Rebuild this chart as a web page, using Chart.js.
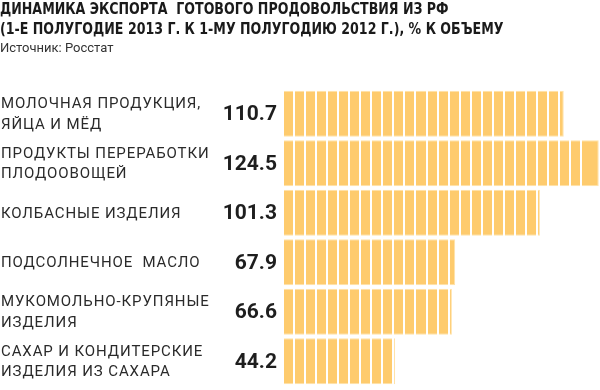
<!DOCTYPE html>
<html>
<head>
<meta charset="utf-8">
<script src="https://cdn.jsdelivr.net/npm/chart.js@4"></script>
<style>
html,body{margin:0;padding:0;background:#fff;}
#wrap{width:600px;height:390px;position:relative;}
</style>
</head>
<body>
<div id="wrap"><canvas id="c" width="600" height="390"></canvas></div>
<script>
const titleLines = ["ДИНАМИКА ЭКСПОРТА  ГОТОВОГО ПРОДОВОЛЬСТВИЯ ИЗ РФ", "(1-Е ПОЛУГОДИЕ 2013 Г. К 1-МУ ПОЛУГОДИЮ 2012 Г.), % К ОБЪЕМУ"];
const sourceText = "Источник: Росстат";
const categories = [
  ["МОЛОЧНАЯ ПРОДУКЦИЯ,", "ЯЙЦА И МЁД"],
  ["ПРОДУКТЫ ПЕРЕРАБОТКИ", "ПЛОДООВОЩЕЙ"],
  ["КОЛБАСНЫЕ ИЗДЕЛИЯ"],
  ["ПОДСОЛНЕЧНОЕ  МАСЛО"],
  ["МУКОМОЛЬНО-КРУПЯНЫЕ", "ИЗДЕЛИЯ"],
  ["САХАР И КОНДИТЕРСКИЕ", "ИЗДЕЛИЯ ИЗ САХАРА"]
];
const values = [110.7, 124.5, 101.3, 67.9, 66.6, 44.2];
const valueLabels = ["110.7", "124.5", "101.3", "67.9", "66.6", "44.2"];

const textPlugin = {
  id: 'textPlugin',
  afterDraw(chart) {
    const ctx = chart.ctx;
    const y = chart.scales.y;
    ctx.save();
    ctx.fillStyle = '#1a1a1a';
    ctx.textAlign = 'left';
    ctx.textBaseline = 'alphabetic';
    ctx.save();
    ctx.scale(0.905, 1);
    ctx.font = 'bold 15.5px "DejaVu Sans Condensed", "DejaVu Sans", sans-serif';
    ctx.fillText(titleLines[0], 0, 14);
    ctx.fillText(titleLines[1], 0, 34);
    ctx.restore();
    ctx.font = '13px Roboto, sans-serif';
    ctx.fillStyle = '#333';
    ctx.fillText(sourceText, 0, 52);
    categories.forEach((lines, i) => {
      const cy = y.getPixelForValue(i);
      const lh = 20.5;
      ctx.font = '15px Roboto, sans-serif';
      ctx.letterSpacing = '0.9px';
      ctx.fillStyle = '#2a2a2a';
      ctx.textAlign = 'left';
      ctx.textBaseline = 'middle';
      const start = cy - (lines.length - 1) * lh / 2;
      lines.forEach((ln, k) => ctx.fillText(ln, 1, start + k * lh + 1));
      ctx.letterSpacing = '0px';
      ctx.font = 'bold 21px Roboto, sans-serif';
      ctx.fillStyle = '#1e1e1e';
      ctx.textAlign = 'right';
      ctx.fillText(valueLabels[i], 277, cy + 1);
    });
    ctx.restore();
  }
};

new Chart(document.getElementById('c'), {
  type: 'bar',
  data: {
    labels: categories,
    datasets: [{
      data: values,
      backgroundColor: '#FECB6D',
      borderColor: '#FFE2A8',
      borderWidth: 1,
      barPercentage: 0.93,
      categoryPercentage: 1.0
    }]
  },
  options: {
    indexAxis: 'y',
    responsive: false,
    animation: false,
    events: [],
    layout: { padding: { top: 89, bottom: 4, left: 283, right: 0 } },
    plugins: { legend: { display: false }, tooltip: { enabled: false }, title: { display: false } },
    scales: {
      x: {
        min: 0,
        max: 125,
        ticks: { display: false, stepSize: 4.353 },
        grid: { color: '#ffffff', lineWidth: 2, drawTicks: false, z: 1 },
        border: { display: false }
      },
      y: {
        display: false
      }
    }
  },
  plugins: [textPlugin]
});
</script>
</body>
</html>
